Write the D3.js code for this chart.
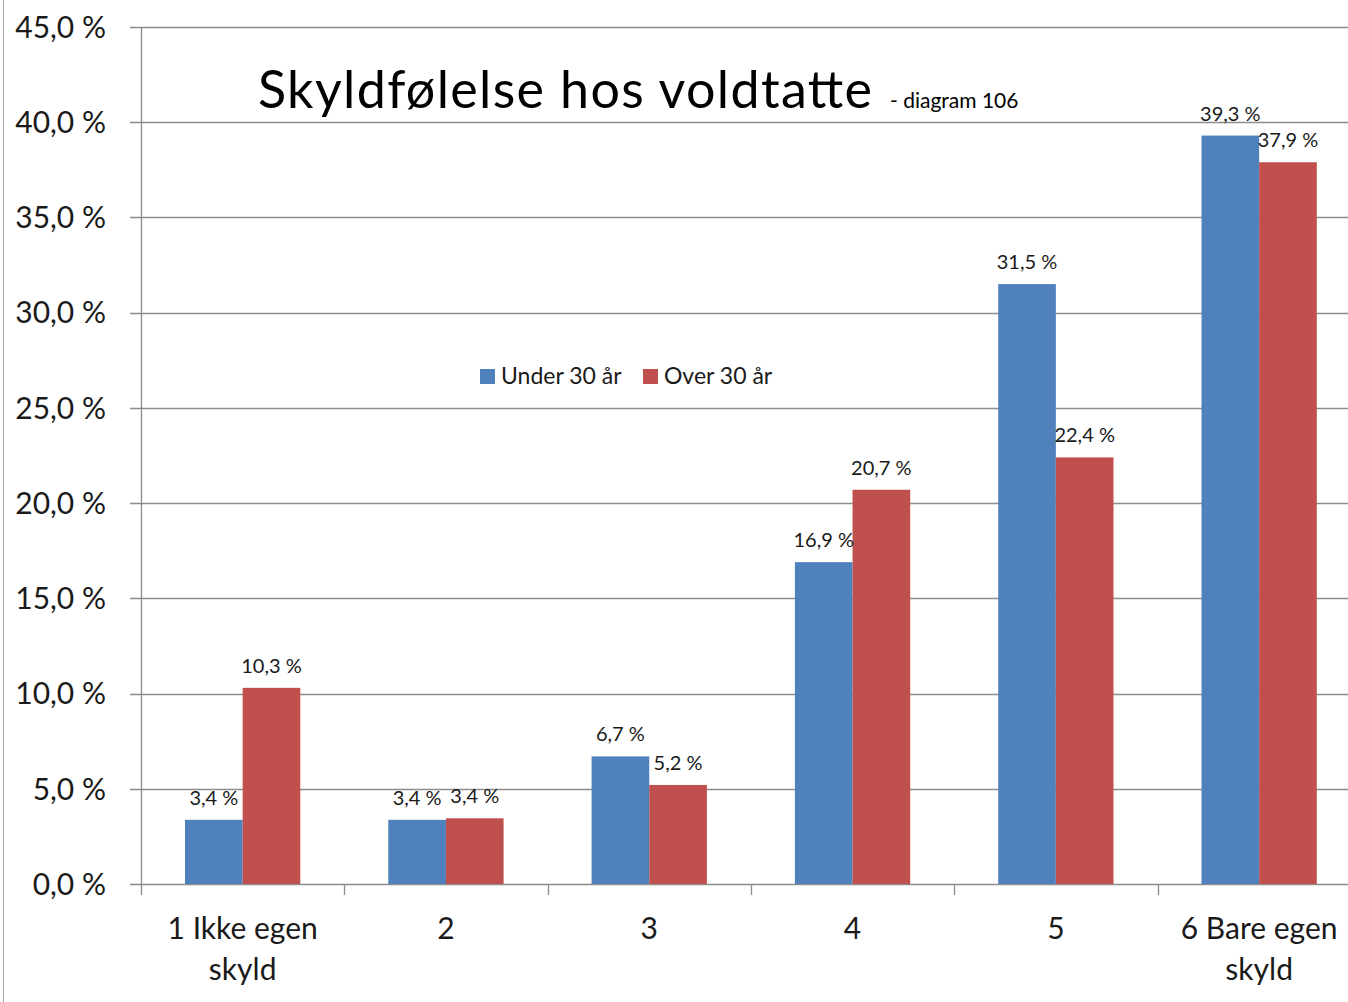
<!DOCTYPE html>
<html>
<head>
<meta charset="utf-8">
<script src="https://cdn.jsdelivr.net/npm/d3@7"></script>
<style>
  html, body { margin: 0; padding: 0; background: #fff; }
  svg { display: block; font-family: Lato, "Open Sans", sans-serif; }
</style>
</head>
<body>
<div id="chart-area"></div>
<script>
// categories on the x axis (second line after "|")
const categories = ["1 Ikke egen|skyld", "2", "3", "4", "5", "6 Bare egen|skyld"];
const seriesNames = ["Under 30 år", "Over 30 år"];
const under30 = [3.37, 3.37, 6.7, 16.9, 31.5, 39.3];
const over30 = [10.3, 3.45, 5.2, 20.7, 22.4, 37.9];
const under30Labels = ["3,4 %", "3,4 %", "6,7 %", "16,9 %", "31,5 %", "39,3 %"];
const over30Labels = ["10,3 %", "3,4 %", "5,2 %", "20,7 %", "22,4 %", "37,9 %"];
const yTicks = [0, 5, 10, 15, 20, 25, 30, 35, 40, 45];
const colors = ["#4F81BD", "#C0504D"];

const width = 1348;
const height = 1002;

const svg = d3.select("#chart-area")
  .append("svg")
  .attr("width", width)
  .attr("height", height);

// thin frame line at the left edge
svg.append("line")
  .attr("x1", 3.5).attr("x2", 3.5)
  .attr("y1", 0).attr("y2", height)
  .attr("stroke", "#a6a6a6").attr("stroke-width", 1);

const x0 = d3.scaleBand()
  .domain(categories)
  .range([141, 141 + 6 * 203.3])
  .padding(0);

const x1 = d3.scaleBand()
  .domain(seriesNames)
  .range([44, x0.bandwidth() - 44])
  .padding(0);

const y = d3.scaleLinear()
  .domain([0, 45])
  .range([884, 27]);

const locale = d3.formatLocale({ decimal: ",", thousands: " ", grouping: [3], currency: ["", ""] });
const fmt = locale.format(".1f");

// gridlines
svg.append("g")
  .selectAll("line")
  .data(yTicks)
  .join("line")
  .attr("x1", 130)
  .attr("x2", width)
  .attr("y1", d => Math.round(y(d)) + 0.5)
  .attr("y2", d => Math.round(y(d)) + 0.5)
  .attr("stroke", "#8c8c8c")
  .attr("stroke-width", 1.3);

// y tick labels
svg.append("g")
  .selectAll("text")
  .data(yTicks)
  .join("text")
  .attr("x", 106)
  .attr("y", d => y(d))
  .attr("dy", "0.36em")
  .attr("text-anchor", "end")
  .attr("font-size", 30)
  .attr("fill", "#1a1a1a")
  .text(d => fmt(d) + " %");

// vertical axis line
svg.append("line")
  .attr("x1", 141.5).attr("x2", 141.5)
  .attr("y1", y(45)).attr("y2", y(0))
  .attr("stroke", "#8c8c8c").attr("stroke-width", 1.3);

// category tick marks
svg.append("g")
  .selectAll("line")
  .data(categories.concat(["end"]))
  .join("line")
  .attr("x1", (d, i) => Math.round(x0.range()[0] + i * x0.step()) + 0.5)
  .attr("x2", (d, i) => Math.round(x0.range()[0] + i * x0.step()) + 0.5)
  .attr("y1", y(0))
  .attr("y2", y(0) + 11)
  .attr("stroke", "#8c8c8c")
  .attr("stroke-width", 1.3);

const rows = categories.map((c, i) => ({
  cat: c,
  vals: [
    { s: seriesNames[0], v: under30[i], label: under30Labels[i] },
    { s: seriesNames[1], v: over30[i], label: over30Labels[i] }
  ]
}));

const groups = svg.append("g")
  .selectAll("g")
  .data(rows)
  .join("g")
  .attr("transform", d => `translate(${x0(d.cat)},0)`);

groups.selectAll("rect")
  .data(d => d.vals)
  .join("rect")
  .attr("x", d => x1(d.s))
  .attr("y", d => y(d.v))
  .attr("width", x1.bandwidth())
  .attr("height", d => y(0) - y(d.v))
  .attr("fill", (d, i) => colors[i]);

groups.selectAll("text.val")
  .data(d => d.vals)
  .join("text")
  .attr("class", "val")
  .attr("x", d => x1(d.s) + x1.bandwidth() / 2)
  .attr("y", d => y(d.v) - 15)
  .attr("text-anchor", "middle")
  .attr("font-size", 20)
  .attr("fill", "#1a1a1a")
  .text(d => d.label);

// category labels
const catText = svg.append("g")
  .selectAll("text")
  .data(categories)
  .join("text")
  .attr("x", d => x0(d) + x0.bandwidth() / 2)
  .attr("y", 939)
  .attr("text-anchor", "middle")
  .attr("font-size", 30)
  .attr("fill", "#1a1a1a");

catText.selectAll("tspan")
  .data(d => d.split("|"))
  .join("tspan")
  .attr("x", function () { return d3.select(this.parentNode).attr("x"); })
  .attr("dy", (d, i) => i === 0 ? 0 : 41)
  .text(d => d);

// title
svg.append("text")
  .attr("x", 258)
  .attr("y", 108)
  .attr("font-size", 52)
  .attr("textLength", 614)
  .attr("lengthAdjust", "spacing")
  .attr("fill", "#000")
  .text("Skyldfølelse hos voldtatte");

svg.append("text")
  .attr("x", 890)
  .attr("y", 108)
  .attr("font-size", 21)
  .attr("fill", "#000")
  .text("- diagram 106");

// legend
const legend = svg.append("g")
  .attr("transform", "translate(480,376)");

const legendX = [0, 163];
seriesNames.forEach((s, i) => {
  legend.append("rect")
    .attr("x", legendX[i])
    .attr("y", -7)
    .attr("width", 15)
    .attr("height", 15)
    .attr("fill", colors[i]);
  legend.append("text")
    .attr("x", legendX[i] + 21)
    .attr("y", 0)
    .attr("dy", "0.35em")
    .attr("font-size", 23)
    .attr("fill", "#1a1a1a")
    .text(s);
});
</script>
</body>
</html>
